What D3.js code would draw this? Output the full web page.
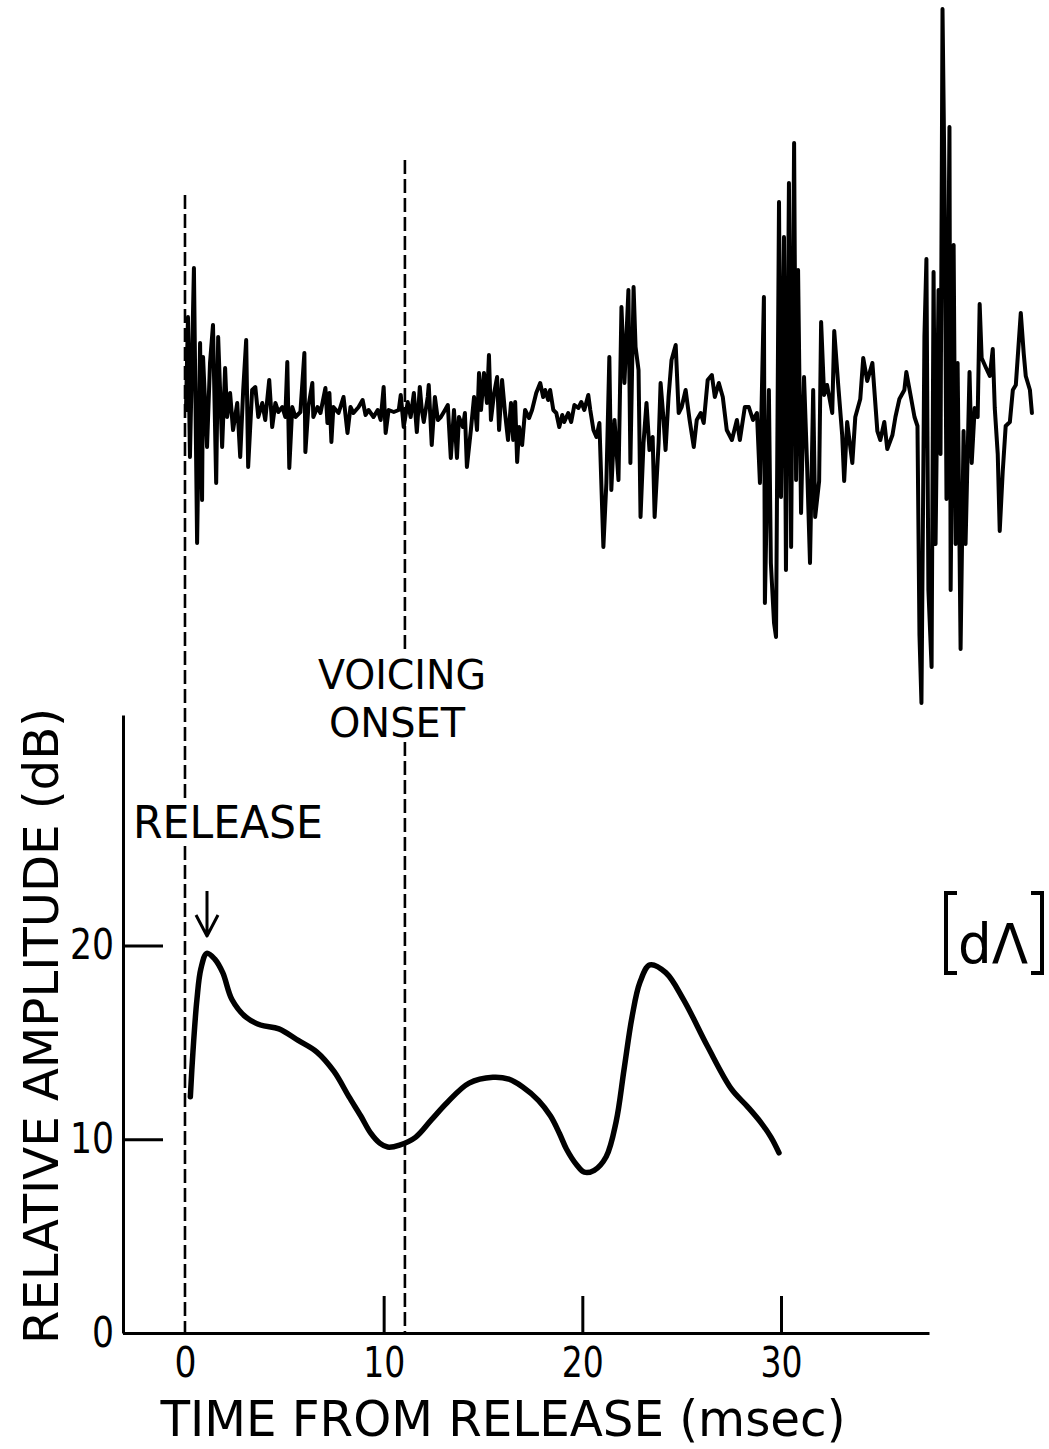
<!DOCTYPE html>
<html><head><meta charset="utf-8">
<script src="https://cdn.jsdelivr.net/npm/d3@7"></script>
<style>
body{margin:0;background:#fff}
svg{display:block}
text{font-family:"DejaVu Sans Condensed","DejaVu Sans",sans-serif;fill:#000}
</style>
</head><body>
<svg id="c" width="1049" height="1449"></svg>
<script>
// ---------- DATA ----------
const xTicks = [0, 10, 20, 30];
const yTicks = [0, 10, 20];
const xTitle = "TIME FROM RELEASE (msec)";
const yTitle = "RELATIVE AMPLITUDE (dB)";
const releaseTime = 0;
const onsetTime = 11.07;

// relative amplitude envelope (ms, dB)
const curveTime = [0.27,0.4,0.6,0.8,1.1,1.5,1.9,2.37,3.07,3.8,4.73,5.7,6.64,7.5,8.25,8.85,9.36,9.8,10.2,10.8,11.6,12.4,13.2,14.3,15.5,16.3,17.0,17.8,18.4,18.85,19.2,19.7,20.1,20.6,21.2,21.7,22.1,22.5,22.9,23.4,24.2,25.1,26.3,27.5,28.3,29.0,29.5,29.9];
const curveDb   = [12.2,14.5,17.2,18.8,19.6,19.3,18.6,17.2,16.3,15.9,15.7,15.1,14.5,13.5,12.2,11.2,10.3,9.8,9.6,9.7,10.1,11.0,11.9,12.9,13.2,13.1,12.7,12.0,11.2,10.3,9.5,8.7,8.3,8.4,9.1,10.9,13.6,16.3,18.1,19.0,18.6,17.2,14.8,12.6,11.7,10.85,10.1,9.3];

// speech waveform trace (ms, arbitrary amplitude units)
const waveTime = [
0.05,0.15,0.25,0.45,0.61,0.76,0.86,0.91,1.11,1.26,1.41,1.57,1.67,1.87,2.02,2.12,2.27,2.42,2.63,2.78,2.93,3.08,3.18,3.38,3.54,3.69,3.89,4.04,4.24,4.39,4.55,4.70,4.90,5.05,5.15,5.25,5.40,5.56,5.81,6.01,6.06,6.21,6.41,6.46,6.67,6.82,7.07,7.17,7.27,7.37,7.47,7.73,7.98,8.18,8.33,8.48,8.74,8.94,9.09,9.24,9.49,9.70,9.85,10.00,10.10,10.25,10.51,10.76,
10.86,11.01,11.21,11.36,11.52,11.67,11.82,11.92,12.02,12.22,12.27,12.42,12.58,12.73,12.88,13.03,13.23,13.38,13.54,13.69,13.79,13.99,14.09,14.19,14.39,14.55,14.70,14.80,14.90,15.05,15.20,15.30,15.40,15.56,15.71,15.81,15.96,16.11,16.26,16.41,16.52,16.62,16.72,16.82,16.97,17.12,17.32,17.47,17.68,17.88,18.03,18.13,18.28,18.38,18.54,18.69,18.84,18.99,19.09,19.29,19.44,19.60,19.80,19.95,20.10,20.30,20.40,20.56,20.71,
20.86,21.06,21.21,21.36,21.46,21.62,21.82,21.97,22.12,22.32,22.42,22.58,22.68,22.83,22.93,23.08,23.23,23.38,23.54,23.64,23.84,23.94,24.09,24.19,24.34,24.49,24.70,24.85,25.00,25.20,25.40,25.61,25.76,25.96,26.11,26.31,26.52,26.67,26.87,27.07,27.27,27.53,27.78,27.93,28.18,28.38,28.59,28.79,28.94,29.14,29.19,29.39,29.49,29.65,29.75,29.90,30.00,30.15,30.25,30.40,30.51,30.66,30.76,30.86,31.01,31.16,31.31,31.46,31.62,31.72,
31.92,32.02,32.17,32.32,32.58,32.68,32.88,33.08,33.18,33.33,33.59,33.74,33.99,34.14,34.34,34.60,34.85,35.00,35.20,35.35,35.61,35.76,35.96,36.21,36.31,36.52,36.72,36.87,36.97,37.07,37.22,37.32,37.42,37.58,37.68,37.78,37.93,38.03,38.13,38.23,38.33,38.48,38.54,38.69,38.79,38.89,39.04,39.19,39.29,39.49,39.60,39.75,39.90,40.00,40.10,40.30,40.51,40.66,40.76,40.91,41.01,41.16,41.31,41.52,41.67,41.82,42.07,42.22,42.32,42.53,42.63
];
const waveAmp = [
0,93,-47,142,-133,67,-90,53,-37,47,85,-73,73,-37,42,-7,17,-20,7,-47,20,70,-57,20,23,-7,7,-10,30,-17,7,-2,3,-7,48,-58,3,-7,-2,57,-42,3,27,-7,3,-3,22,-13,17,-32,3,-3,13,-23,3,-3,3,10,-5,0,-7,0,-10,23,-23,0,-2,0,
15,-17,8,-7,17,-22,23,0,-12,13,25,-35,13,-10,-7,-2,5,-48,0,-48,-7,-17,-3,-57,-20,13,-20,37,0,37,7,55,-10,17,33,-20,30,-3,-30,7,-30,8,-52,-17,-35,0,-8,0,17,27,13,20,10,20,0,-3,-17,-5,-12,-3,-12,5,2,8,0,15,0,-20,-27,
-13,-137,-73,53,-80,-10,-70,103,27,120,-53,123,63,40,-107,-33,7,-40,-27,-107,-33,27,-10,-40,13,50,65,-3,3,20,-10,-37,-10,-3,-13,30,35,13,27,13,-20,-30,-10,-30,3,3,-10,-3,-73,113,-193,20,-153,-213,-227,208,-87,173,-160,227,-137,267,-70,140,-103,33,-53,-153,20,-107,
-71,88,15,25,-3,79,25,-25,-71,-12,-53,-7,11,52,29,47,-21,-30,-12,-39,-25,-7,11,20,38,15,-7,-16,-225,-293,74,151,-180,-257,138,-134,120,-44,401,229,-89,283,-180,165,-134,47,-239,-21,-134,38,-53,2,-7,106,52,43,34,61,2,-44,-121,-62,-16,-12,20,25,97,56,34,20,-3
];

// ---------- DRAW ----------
const svg = d3.select("#c");
svg.append("rect").attr("width",1049).attr("height",1449).attr("fill","#fff");

const x = d3.scaleLinear().domain([-3.12, 37.45]).range([123, 929]);
const y = d3.scaleLinear().domain([0, 31.9]).range([1333, 715]);
const yw = d3.scaleLinear().domain([-300, 410]).range([710, 0]);

// dashed reference lines (broken where labels sit)
const dash = "14,5";
[[releaseTime,195,798],[releaseTime,846,1333],[onsetTime,160,652],[onsetTime,742,1333]].forEach(s=>{
  svg.append("line").attr("x1",x(s[0])).attr("x2",x(s[0])).attr("y1",s[1]).attr("y2",s[2])
    .attr("stroke","#000").attr("stroke-width",2.6).attr("stroke-dasharray",dash);
});

// waveform
const idx = d3.range(waveTime.length);
svg.append("path")
  .attr("d", d3.line().x(i=>x(waveTime[i])).y(i=>yw(waveAmp[i]))(idx))
  .attr("fill","none").attr("stroke","#000").attr("stroke-width",4)
  .attr("stroke-linejoin","round").attr("stroke-linecap","round");

// axes
const gx = svg.append("g").attr("transform","translate(0,1333)")
  .call(d3.axisBottom(x).tickValues(xTicks).tickSizeInner(-37).tickSizeOuter(0).tickPadding(14).tickFormat(d3.format("d")));
gx.attr("font-size",42).attr("font-family",null);
gx.select(".domain").attr("stroke","#000").attr("stroke-width",3);
gx.selectAll(".tick line").attr("stroke","#000").attr("stroke-width",3);
gx.selectAll(".tick").filter(d=>d===0).select("line").remove();
gx.selectAll(".tick text").attr("fill","#000")
  .attr("textLength",d=>d===0?22:42).attr("lengthAdjust","spacingAndGlyphs");

const gy = svg.append("g").attr("transform",`translate(${x(-3.12)},0)`)
  .call(d3.axisLeft(y).tickValues(yTicks).tickSizeInner(-40).tickSizeOuter(0).tickPadding(9).tickFormat(d3.format("d")));
gy.attr("font-size",42).attr("font-family",null);
gy.select(".domain").attr("stroke","#000").attr("stroke-width",3);
gy.selectAll(".tick line").attr("stroke","#000").attr("stroke-width",3);
gy.selectAll(".tick text").attr("fill","#000")
  .attr("textLength",d=>d===0?22:44).attr("lengthAdjust","spacingAndGlyphs");

// amplitude curve
const cidx = d3.range(curveTime.length);
svg.append("path")
  .attr("d", d3.line().curve(d3.curveCatmullRom.alpha(0.5)).x(i=>x(curveTime[i])).y(i=>y(curveDb[i]))(cidx))
  .attr("fill","none").attr("stroke","#000").attr("stroke-width",5.5)
  .attr("stroke-linejoin","round").attr("stroke-linecap","round");

// titles
svg.append("text").attr("x",503).attr("y",1436).attr("text-anchor","middle")
  .attr("font-size",50).attr("textLength",685).attr("lengthAdjust","spacingAndGlyphs").text(xTitle);
svg.append("text").attr("transform","translate(58,1026) rotate(-90)").attr("text-anchor","middle")
  .attr("font-size",48).attr("textLength",636).attr("lengthAdjust","spacingAndGlyphs").text(yTitle);

// annotations
svg.append("text").attr("x",133).attr("y",838).attr("font-size",44)
  .attr("textLength",190).attr("lengthAdjust","spacingAndGlyphs").text("RELEASE");
svg.append("text").attr("x",402).attr("y",689).attr("text-anchor","middle").attr("font-size",40)
  .attr("textLength",168).attr("lengthAdjust","spacingAndGlyphs").text("VOICING");
svg.append("text").attr("x",397).attr("y",737).attr("text-anchor","middle").attr("font-size",40)
  .attr("textLength",136).attr("lengthAdjust","spacingAndGlyphs").text("ONSET");

// arrow to release peak
svg.append("path").attr("d","M207,891V935M196,915L207,936L218,915")
  .attr("fill","none").attr("stroke","#000").attr("stroke-width",3).attr("stroke-linejoin","round");

// phonetic label [dΛ]
svg.append("path").attr("d","M957,893H946V973H957M1031,893H1042V973H1031")
  .attr("fill","none").attr("stroke","#000").attr("stroke-width",4);
svg.append("text").attr("x",993).attr("y",963).attr("text-anchor","middle").attr("font-size",56)
  .attr("textLength",70).attr("lengthAdjust","spacingAndGlyphs").text("dΛ");
</script>
</body></html>
